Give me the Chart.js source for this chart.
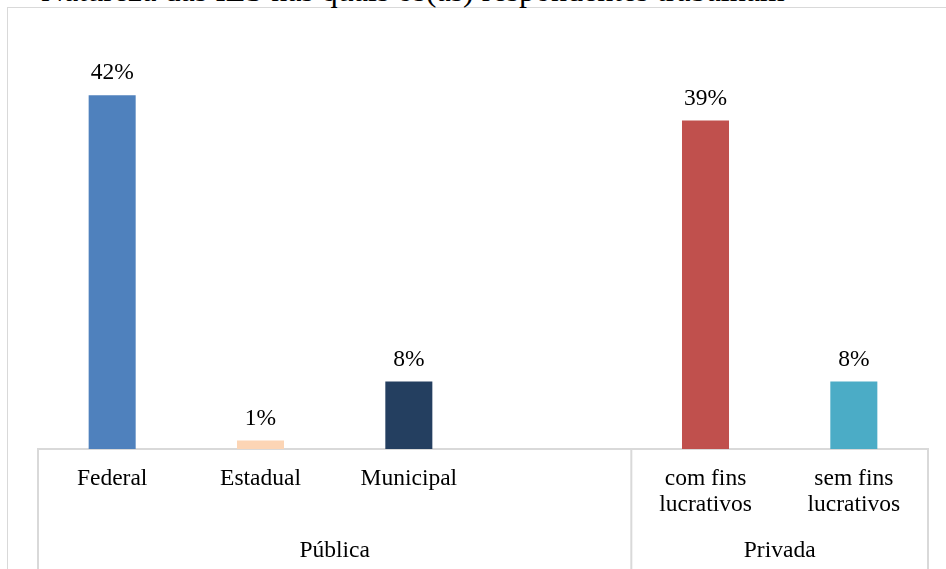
<!DOCTYPE html>
<html>
<head>
<meta charset="utf-8">
<script src="https://cdn.jsdelivr.net/npm/chart.js@4/dist/chart.umd.min.js"></script>
<style>
  html, body { margin: 0; padding: 0; background: #fff; overflow: hidden; }
  #wrap { position: relative; width: 946px; height: 569px; overflow: hidden; }
  #frame { position: absolute; left: 7px; top: 7px; width: 960px; height: 600px;
           border: 1.5px solid #d9d9d9; box-sizing: border-box; }
  #titulo { position: absolute; left: 41px; top: -26px; white-space: nowrap;
            font: 32px/32px "Liberation Serif", "Times New Roman", serif; color: #000; }
  canvas { position: absolute; left: 0; top: 0; }
</style>
</head>
<body>
<div id="wrap">
  <div id="frame"></div>
  <div id="titulo">Natureza das IES nas quais os(as) respondentes trabalham</div>
  <canvas id="barChart" width="946" height="569"></canvas>
</div>
<script>
// categorias (a quarta fica vazia para separar os grupos)
var categorias = ['Federal', 'Estadual', 'Municipal', '', ['com fins', 'lucrativos'], ['sem fins', 'lucrativos']];
var valores = [42, 1, 8, null, 39, 8];
var cores = ['#4F81BD', '#FCD5B5', '#243F60', '#ffffff', '#C0504D', '#4BACC6'];
var grupos = ['Pública', 'Privada'];
var inicioGrupo = [0, 4];
var fimGrupo = [3, 5];

var fonte = { family: '"Liberation Serif", "Times New Roman", serif', size: 23.5, lineHeight: 1.1 };
var cinza = '#d9d9d9';

// escreve o percentual em cima de cada barra
var rotulos = {
  id: 'rotulos',
  afterDatasetsDraw: function(chart) {
    var ctx = chart.ctx;
    var meta = chart.getDatasetMeta(0);
    ctx.save();
    ctx.font = fonte.size + 'px ' + fonte.family;
    ctx.fillStyle = '#000';
    ctx.textAlign = 'center';
    ctx.textBaseline = 'alphabetic';
    meta.data.forEach(function(bar, i) {
      if (valores[i] == null) return;
      ctx.fillText(valores[i] + '%', bar.x, bar.y - 16);
    });
    ctx.restore();
  }
};

// linhas verticais e nomes dos grupos abaixo do eixo
var gruposEixo = {
  id: 'gruposEixo',
  afterDraw: function(chart) {
    var ctx = chart.ctx;
    var x = chart.scales.x;
    var passo = x.width / categorias.length;
    var topo = x.top;
    var base = chart.height;
    ctx.save();
    ctx.strokeStyle = cinza;
    ctx.lineWidth = 2;
    var bordas = [];
    for (var g = 0; g < grupos.length; g++) {
      bordas.push(x.getPixelForValue(inicioGrupo[g]) - passo / 2);
    }
    bordas.push(x.getPixelForValue(fimGrupo[grupos.length - 1]) + passo / 2);
    bordas.forEach(function(px) {
      ctx.beginPath();
      ctx.moveTo(px, topo);
      ctx.lineTo(px, base);
      ctx.stroke();
    });
    ctx.font = fonte.size + 'px ' + fonte.family;
    ctx.fillStyle = '#000';
    ctx.textAlign = 'center';
    ctx.textBaseline = 'alphabetic';
    for (var g = 0; g < grupos.length; g++) {
      var a = x.getPixelForValue(inicioGrupo[g]) - passo / 2;
      var b = x.getPixelForValue(fimGrupo[g]) + passo / 2;
      ctx.fillText(grupos[g], (a + b) / 2, topo + 108);
    }
    ctx.restore();
  }
};

var ctx = document.getElementById('barChart').getContext('2d');
var myChart = new Chart(ctx, {
  type: 'bar',
  data: {
    labels: categorias,
    datasets: [{
      data: valores,
      backgroundColor: cores,
      borderWidth: 0,
      barPercentage: 0.317,
      categoryPercentage: 1
    }]
  },
  options: {
    responsive: false,
    animation: false,
    devicePixelRatio: 1,
    layout: { padding: { left: 38, right: 18, top: 70, bottom: 0 } },
    plugins: {
      legend: { display: false },
      tooltip: { enabled: false },
      title: { display: false }
    },
    scales: {
      x: {
        grid: { display: false },
        border: { display: true, color: cinza, width: 2 },
        ticks: {
          color: '#000',
          font: fonte,
          padding: 9,
          maxRotation: 0,
          autoSkip: false
        },
        afterFit: function(scale) { scale.height = 120; }
      },
      y: {
        display: false,
        min: 0,
        max: 45
      }
    }
  },
  plugins: [rotulos, gruposEixo]
});
</script>
</body>
</html>
